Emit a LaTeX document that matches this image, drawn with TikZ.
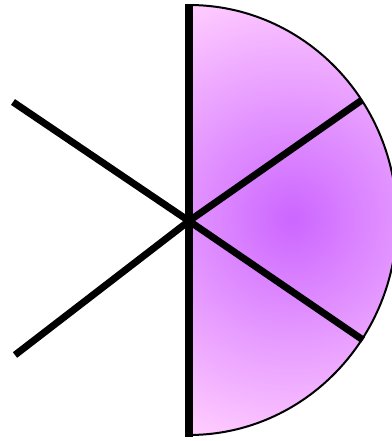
\documentclass[tikz,border=0pt]{standalone}
\usepackage{tikz}
\usetikzlibrary{calc}
\usepackage{xcolor}
\definecolor{lobein}{HTML}{CC66FF}
\definecolor{lobeout}{HTML}{FFCCFF}

\begin{document}
\begin{tikzpicture}[x=0.02cm,y=0.02cm]
  \clip (0,0) rectangle (392,441);

  % Hub and spoke ends
  \coordinate (hub) at (189,220);
  \coordinate (top) at (189,436);
  \coordinate (up) at (189,437);
  \coordinate (down) at (189,4);
  \coordinate (nw) at (13,339);
  \coordinate (sw) at (15,86);
  \coordinate (ne) at (362,341);
  \coordinate (se) at (363,101);

  % Shaded half lobe
  \begin{scope}
    \clip (top) arc[start angle=90,end angle=-90,x radius=208,y radius=215] -- cycle;
    \fill[lobeout] (185,0) rectangle (400,441);
    \shade[inner color=lobein,outer color=lobeout] (292,222) circle (235);
  \end{scope}
  \draw[black,line width=0.04cm] (top) arc[start angle=90,end angle=-90,x radius=208,y radius=215];

  % Axis
  \draw[black,line width=0.15cm] (down) -- (up);

  % Spokes
  \draw[black,line width=0.14cm] (nw) -- (hub) -- (ne);
  \draw[black,line width=0.14cm] (sw) -- (hub) -- (se);
\end{tikzpicture}
\end{document}
